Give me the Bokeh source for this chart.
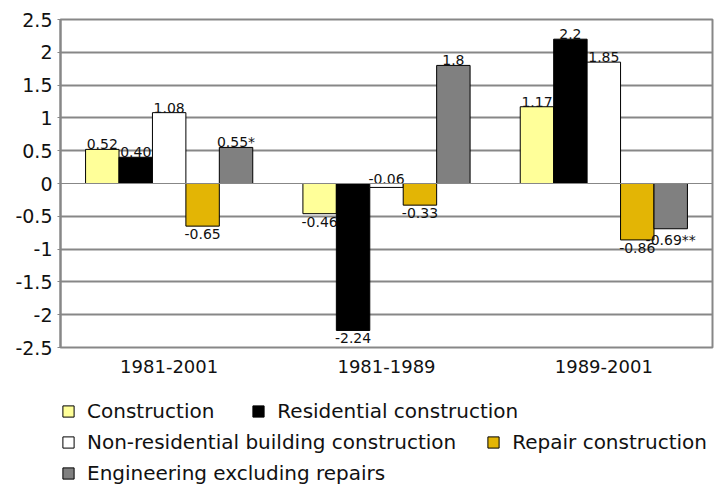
from bokeh.plotting import figure
from bokeh.layouts import column
from bokeh.models import FactorRange, Range1d, FixedTicker, Span, Legend, LegendItem, ColumnDataSource
from bokeh.transform import dodge
from bokeh.embed import file_html
from bokeh.resources import INLINE

# ---- data ----
groups = ["1981-2001", "1981-1989", "1989-2001"]
series_names = ["Construction", "Residential construction",
                "Non-residential building construction", "Repair construction",
                "Engineering excluding repairs"]
construction = [0.52, -0.46, 1.17]
residential = [0.40, -2.24, 2.2]
non_residential = [1.08, -0.06, 1.85]
repair = [-0.65, -0.33, -0.86]
engineering = [0.55, 1.8, -0.69]
labels_construction = ["0.52", "-0.46", "1.17"]
labels_residential = ["0.40", "-2.24", "2.2"]
labels_non_residential = ["1.08", "-0.06", "1.85"]
labels_repair = ["-0.65", "-0.33", "-0.86"]
labels_engineering = ["0.55*", "1.8", "-0.69**"]
y_ticks = [-2.5, -2.0, -1.5, -1.0, -0.5, 0.0, 0.5, 1.0, 1.5, 2.0, 2.5]
y_tick_labels = ["-2.5", "-2", "-1.5", "-1", "-0.5", "0", "0.5", "1", "1.5", "2", "2.5"]

series_values = [construction, residential, non_residential, repair, engineering]
series_labels = [labels_construction, labels_residential, labels_non_residential,
                 labels_repair, labels_engineering]
colors = ["#FFFF99", "#000000", "#FFFFFF", "#E3B505", "#808080"]

FONT = "DejaVu Sans"
GRID = "#878787"

p = figure(x_range=FactorRange(*groups, range_padding=0), y_range=Range1d(-2.5, 2.5),
           width=716, height=394,
           output_backend="svg", toolbar_location=None,
           min_border_left=60, min_border_right=4, min_border_top=19, min_border_bottom=47,
           background_fill_color="white", border_fill_color="white")

p.outline_line_color = GRID
p.outline_line_width = 2
p.xgrid.grid_line_color = None
p.ygrid.ticker = FixedTicker(ticks=[t for t in y_ticks if t != 0])
p.ygrid.grid_line_color = GRID
p.ygrid.grid_line_width = 2

p.yaxis.ticker = FixedTicker(ticks=y_ticks)
p.yaxis.major_label_overrides = {t: s for t, s in zip(y_ticks, y_tick_labels)}
p.yaxis.axis_line_color = GRID
p.yaxis.axis_line_width = 2
p.yaxis.major_tick_line_color = GRID
p.yaxis.major_tick_out = 3
p.yaxis.major_tick_in = 0
p.yaxis.minor_tick_line_color = None
p.yaxis.major_label_standoff = 5
p.yaxis.major_label_text_font = FONT
p.yaxis.major_label_text_font_size = "19px"
p.yaxis.major_label_text_color = "#111111"

p.xaxis.axis_line_color = None
p.xaxis.major_tick_line_color = None
p.xaxis.major_tick_out = 0
p.xaxis.major_tick_in = 0
p.xaxis.minor_tick_line_color = None
p.xaxis.major_label_standoff = 12
p.xaxis.major_label_text_font = FONT
p.xaxis.major_label_text_font_size = "18px"
p.xaxis.major_label_text_color = "#111111"

p.add_layout(Span(location=0, dimension="width", line_color=GRID, line_width=1))

n = len(series_values)
bw = 1 / (n + 1.5)
for i, (vals, labs, col) in enumerate(zip(series_values, series_labels, colors)):
    above = [v > -0.1 for v in vals]
    src = ColumnDataSource(dict(
        x=groups, top=vals, text=labs,
        ya=[max(v, 0) if a else v for v, a in zip(vals, above)],
        base=["alphabetic" if a else "top" for a in above],
        yoff=[-5 if a else 3 for a in above],
    ))
    off = (i - (n - 1) / 2) * bw
    p.vbar(x=dodge("x", off, range=p.x_range), top="top", bottom=0, width=bw,
           fill_color=col, line_color="#000000", line_width=1, source=src)
    p.text(x=dodge("x", off, range=p.x_range), y="ya", text="text", source=src,
           text_align="center", text_baseline="base", y_offset="yoff",
           text_font_size="14px", text_color="#111111", text_font={"value": FONT})

# ---- legend area (separate strip under the chart) ----
lf = figure(width=716, height=93, x_range=Range1d(0, 1), y_range=Range1d(0, 1),
            output_backend="svg", toolbar_location=None,
            x_axis_location=None, y_axis_location=None,
            min_border_left=0, min_border_right=0, min_border_top=0, min_border_bottom=0,
            background_fill_color="white", border_fill_color="white")
lf.outline_line_color = None
lf.xgrid.grid_line_color = None
lf.ygrid.grid_line_color = None

# legend swatch proxies: one zero-height bar each, placed outside the strip's visible range
proxies = [lf.vbar(x=[2], top=[0], bottom=0, width=0.1, fill_color=col,
                   line_color="#000000", line_width=1)
           for col in colors]

rows = [[0, 1], [2, 3], [4]]
spacings = [37, 30, 12]
for k, (row, sp) in enumerate(zip(rows, spacings)):
    leg = Legend(items=[LegendItem(label=series_names[j], renderers=[proxies[j]]) for j in row],
                 orientation="horizontal", location=(1, 31 * (len(rows) - 1 - k) + 2),
                 glyph_width=14, glyph_height=14, label_standoff=12, spacing=sp,
                 padding=3, margin=0, label_height=25,
                 label_text_font=FONT, label_text_font_size="20px", label_text_color="#111111",
                 background_fill_alpha=0, border_line_color=None)
    lf.add_layout(leg, "center")

layout = column(p, lf, spacing=0)
open("out.html", "w").write(file_html(layout, INLINE))
